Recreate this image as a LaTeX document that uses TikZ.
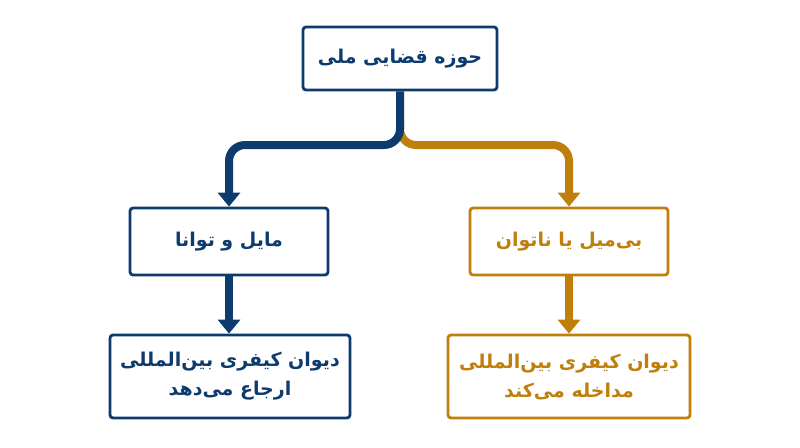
\documentclass[tikz,border=0pt]{standalone}
\usepackage{fontspec}
\newfontfamily\fa[Script=Arabic]{DejaVu Sans}
\usetikzlibrary{arrows.meta}
\TeXXeTstate=1
\definecolor{navy}{HTML}{0D3B6E}
\definecolor{gold}{HTML}{C07F0A}
\newcommand{\rtl}[1]{\beginR #1\endR}
\begin{document}
\begin{tikzpicture}[x=1pt,y=-1pt,
  box/.style={draw=#1, line width=2.8pt, rounded corners=3pt, fill=white, text=#1,
    font=\fa\bfseries\fontsize{19}{29}\selectfont, align=center, inner sep=0pt},
  conn/.style={draw=#1, line width=8pt, rounded corners=16pt, -{Triangle[length=14pt,width=22pt]}}]
\useasboundingbox (0,0) rectangle (800,447);
\node[box=navy, minimum width=194pt, minimum height=63pt] (top) at (400,58.5) {\rtl{حوزه قضایی ملی}};
\node[box=navy, minimum width=198pt, minimum height=67pt] (ml) at (229,241.5) {\rtl{مایل و توانا}};
\node[box=gold, minimum width=198pt, minimum height=67pt] (mr) at (569,241.5) {\rtl{بی‌میل یا ناتوان}};
\node[box=navy, minimum width=240pt, minimum height=83pt] (bl) at (230,376.5) {\rtl{دیوان کیفری بین‌المللی}\\\rtl{ارجاع می‌دهد}};
\node[box=gold, minimum width=242pt, minimum height=83pt] (br) at (569,376.5) {\rtl{دیوان کیفری بین‌المللی}\\\rtl{مداخله می‌کند}};
\coordinate (j) at (400,145);
\coordinate (jg) at (400,120);
\draw[conn=gold] (jg) -- (j) -- (mr.north |- j) -- (mr.north);
\draw[conn=navy] (top.south) -- (j) -- (ml.north |- j) -- (ml.north);
\draw[conn=navy, rounded corners=0pt] (ml.south) -- (ml.south |- bl.north);
\draw[conn=gold, rounded corners=0pt] (mr.south) -- (mr.south |- br.north);
\end{tikzpicture}
\end{document}
